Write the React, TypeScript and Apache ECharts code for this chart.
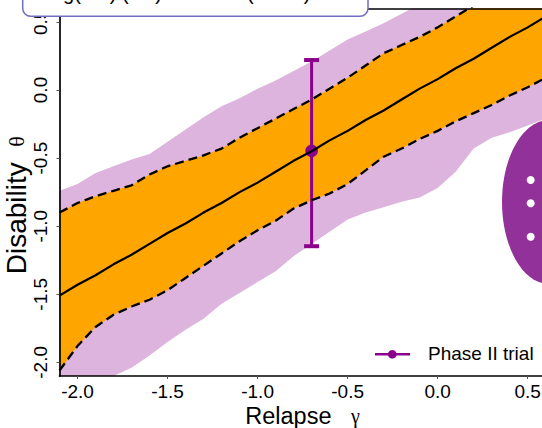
import React, { useEffect, useRef } from "react";
import * as echarts from "echarts";

const xs = [-2.1, -2.0, -1.9, -1.8, -1.7, -1.6, -1.5, -1.4, -1.3, -1.2, -1.1, -1.0, -0.9, -0.8, -0.7, -0.6, -0.5, -0.4, -0.3, -0.2, -0.1, 0.0, 0.1, 0.2, 0.3, 0.4, 0.5, 0.6];
const centerLine = [-1.51, -1.43, -1.36, -1.28, -1.21, -1.13, -1.05, -0.98, -0.9, -0.83, -0.75, -0.68, -0.6, -0.52, -0.45, -0.37, -0.3, -0.22, -0.15, -0.07, 0.01, 0.08, 0.16, 0.23, 0.31, 0.39, 0.46, 0.54];
const ciUpper = [-0.9, -0.83, -0.78, -0.74, -0.7, -0.62, -0.56, -0.52, -0.48, -0.43, -0.35, -0.28, -0.21, -0.14, -0.07, 0.01, 0.09, 0.18, 0.27, 0.33, 0.39, 0.46, 0.54, 0.62, 0.7, 0.78, 0.86, 0.94];
const ciLower = [-2.06, -1.88, -1.74, -1.65, -1.59, -1.54, -1.47, -1.38, -1.29, -1.2, -1.11, -1.03, -0.96, -0.87, -0.81, -0.76, -0.69, -0.59, -0.49, -0.43, -0.36, -0.3, -0.23, -0.17, -0.11, -0.04, 0.02, 0.09];
const predUpper = [-0.74, -0.69, -0.61, -0.56, -0.51, -0.47, -0.38, -0.29, -0.2, -0.12, -0.06, 0.01, 0.07, 0.14, 0.21, 0.29, 0.37, 0.43, 0.49, 0.56, 0.63, 0.72, 0.8, 0.88, 0.96, 1.04, 1.12, 1.2];
const predLower = [-2.45, -2.33, -2.2, -2.1, -2.04, -1.95, -1.85, -1.76, -1.68, -1.57, -1.49, -1.41, -1.33, -1.22, -1.13, -1.04, -0.95, -0.9, -0.86, -0.82, -0.79, -0.72, -0.6, -0.43, -0.35, -0.31, -0.26, -0.21];
// [x, estimate, lower, upper]
const trial = [[-0.7, -0.447, -1.147, 0.22]];
const xTicks = [-2, -1.5, -1, -0.5, 0, 0.5];
const yTicks = [-2, -1.5, -1, -0.5, 0, 0.5];
const legendLabel = "Phase II trial";
const boxText = "log(HR) (SE) = -0.447 (0.350)";

const FONT = "'Liberation Sans', Arial, sans-serif";
const PURPLE = "#8B008B";
const GAP2 = "\u00A0\u00A0";
const GAP3 = "\u00A0\u00A0\u00A0";

function bandRenderer(upper: number[], lower: number[], color: string) {
  return (params: any, api: any) => {
    if (params.dataIndex !== 0) return null;
    const pts: number[][] = [];
    for (let i = 0; i < xs.length; i++) pts.push(api.coord([xs[i], upper[i]]));
    for (let i = xs.length - 1; i >= 0; i--) pts.push(api.coord([xs[i], lower[i]]));
    return { type: "polygon", shape: { points: pts }, style: { fill: color } };
  };
}

export default function App() {
  const ref = useRef<HTMLDivElement>(null);
  useEffect(() => {
    if (!ref.current) return;
    const chart = echarts.init(ref.current, undefined, { renderer: "svg" });
    const axisCommon = {
      type: "value",
      min: -2.1,
      max: 0.6,
      splitLine: { show: false },
      z: 10,
    };
    chart.setOption({
      animation: false,
      backgroundColor: "#fff",
      grid: { left: 59.5, top: 8.3, width: 486.2, height: 367.7, containLabel: false, outerBoundsMode: "none" },
      xAxis: [
        {
          ...axisCommon,
          position: "bottom",
          axisLine: { show: true, onZero: false, lineStyle: { color: "#000", width: 1.7 } },
          axisTick: { show: true, length: 3, customValues: xTicks, lineStyle: { color: "#555", width: 1 } },
          axisLabel: {
            customValues: xTicks,
            formatter: (v: number) => v.toFixed(1),
            color: "#000",
            fontSize: 19,
            fontFamily: FONT,
            margin: 6,
          },
          name: `{a|Relapse}${GAP3}{b|γ}`,
          nameLocation: "middle",
          nameGap: 28,
          nameMoveOverlap: false,
          nameTextStyle: {
            color: "#000",
            fontSize: 23.5,
            fontFamily: FONT,
            rich: {
              a: { fontSize: 23.5, fontFamily: FONT, color: "#000" },
              b: { fontSize: 20, fontFamily: "'Liberation Serif', serif", color: "#000" },
            },
          },
        },
        {
          ...axisCommon,
          position: "top",
          axisLine: { show: true, onZero: false, lineStyle: { color: "#000", width: 1.7 } },
          axisTick: { show: false },
          axisLabel: { show: false },
        },
      ],
      yAxis: [
        {
          ...axisCommon,
          position: "left",
          axisLine: { show: true, onZero: false, lineStyle: { color: "#000", width: 1.7 } },
          axisTick: { show: true, length: 3, customValues: yTicks, lineStyle: { color: "#555", width: 1 } },
          axisLabel: {
            customValues: yTicks,
            formatter: (v: number) => v.toFixed(1),
            color: "#000",
            fontSize: 19,
            fontFamily: FONT,
            rotate: 90,
            margin: 10,
          },
          name: `{a|Disability}${GAP2}{b|θ}`,
          nameLocation: "middle",
          nameGap: 29,
          nameMoveOverlap: false,
          nameTextStyle: {
            color: "#000",
            fontSize: 28,
            fontFamily: FONT,
            padding: [0, 26, 0, 0],
            rich: {
              a: { fontSize: 28, fontFamily: FONT, color: "#000" },
              b: { fontSize: 22, fontFamily: "'Liberation Serif', serif", color: "#000" },
            },
          },
        },
      ],
      series: [
        {
          type: "custom",
          clip: true,
          renderItem: bandRenderer(predUpper, predLower, "#DDB4DD"),
          data: xs.map((x, i) => [x, predLower[i], predUpper[i]]),
          encode: { x: 0, y: [1, 2] },
          silent: true,
        },
        {
          type: "custom",
          clip: true,
          renderItem: bandRenderer(ciUpper, ciLower, "#FFA500"),
          data: xs.map((x, i) => [x, ciLower[i], ciUpper[i]]),
          encode: { x: 0, y: [1, 2] },
          silent: true,
        },
        {
          type: "line",
          data: xs.map((x, i) => [x, ciUpper[i]]),
          showSymbol: false,
          symbol: "none",
          lineStyle: { color: "#000", width: 2.3, type: [9, 5] },
          silent: true,
        },
        {
          type: "line",
          data: xs.map((x, i) => [x, ciLower[i]]),
          showSymbol: false,
          symbol: "none",
          lineStyle: { color: "#000", width: 2.3, type: [9, 5] },
          silent: true,
        },
        {
          type: "line",
          data: xs.map((x, i) => [x, centerLine[i]]),
          showSymbol: false,
          symbol: "none",
          lineStyle: { color: "#000", width: 2.2 },
          silent: true,
        },
        {
          type: "custom",
          clip: false,
          data: trial,
          encode: { x: 0, y: [1, 2, 3] },
          renderItem: (params: any, api: any) => {
            const x = api.value(0);
            const top = api.coord([x, api.value(3)]);
            const bot = api.coord([x, api.value(2)]);
            const mid = api.coord([x, api.value(1)]);
            return {
              type: "group",
              children: [
                { type: "line", shape: { x1: top[0], y1: top[1], x2: bot[0], y2: bot[1] }, style: { stroke: PURPLE, lineWidth: 3 } },
                { type: "line", shape: { x1: top[0] - 7.5, y1: top[1], x2: top[0] + 7.5, y2: top[1] }, style: { stroke: PURPLE, lineWidth: 4 } },
                { type: "line", shape: { x1: bot[0] - 7.5, y1: bot[1], x2: bot[0] + 7.5, y2: bot[1] }, style: { stroke: PURPLE, lineWidth: 4 } },
                { type: "circle", shape: { cx: mid[0], cy: mid[1], r: 6.3 }, style: { fill: PURPLE } },
              ],
            };
          },
          silent: true,
        },
      ],
      graphic: [
        { type: "ellipse", z: 101, shape: { cx: 549, cy: 202, rx: 47, ry: 82 }, style: { fill: "#93319B" } },
        { type: "circle", z: 102, shape: { cx: 530.7, cy: 180, r: 4 }, style: { fill: "#fff" } },
        { type: "circle", z: 102, shape: { cx: 530.7, cy: 203.3, r: 4 }, style: { fill: "#fff" } },
        { type: "circle", z: 102, shape: { cx: 530.7, cy: 236.7, r: 4 }, style: { fill: "#fff" } },
        {
          type: "rect",
          z: 100,
          shape: { x: 22.7, y: -40, width: 345.3, height: 56.3, r: 8 },
          style: { fill: "#fff", stroke: "#6E6EC2", lineWidth: 1.5 },
        },
        {
          type: "text",
          z: 101,
          x: 47.5,
          y: -7,
          style: { text: boxText, font: `20px ${FONT}`, fill: "#000", verticalAlign: "middle", align: "left" },
        },
        { type: "line", z: 100, shape: { x1: 375, y1: 354.3, x2: 410, y2: 354.3 }, style: { stroke: PURPLE, lineWidth: 2.5 } },
        { type: "circle", z: 101, shape: { cx: 392.3, cy: 354.3, r: 4.3 }, style: { fill: PURPLE } },
        {
          type: "text",
          z: 100,
          x: 428,
          y: 353.5,
          style: { text: legendLabel, font: `19px ${FONT}`, fill: "#000", verticalAlign: "middle", align: "left" },
        },
      ],
    });
    return () => chart.dispose();
  }, []);
  return (
    <div style={{ position: "fixed", left: 0, top: 0, width: 542, height: 428, overflow: "hidden", background: "#fff" }}>
      <div ref={ref} style={{ width: 600, height: 428 }} />
    </div>
  );
}
